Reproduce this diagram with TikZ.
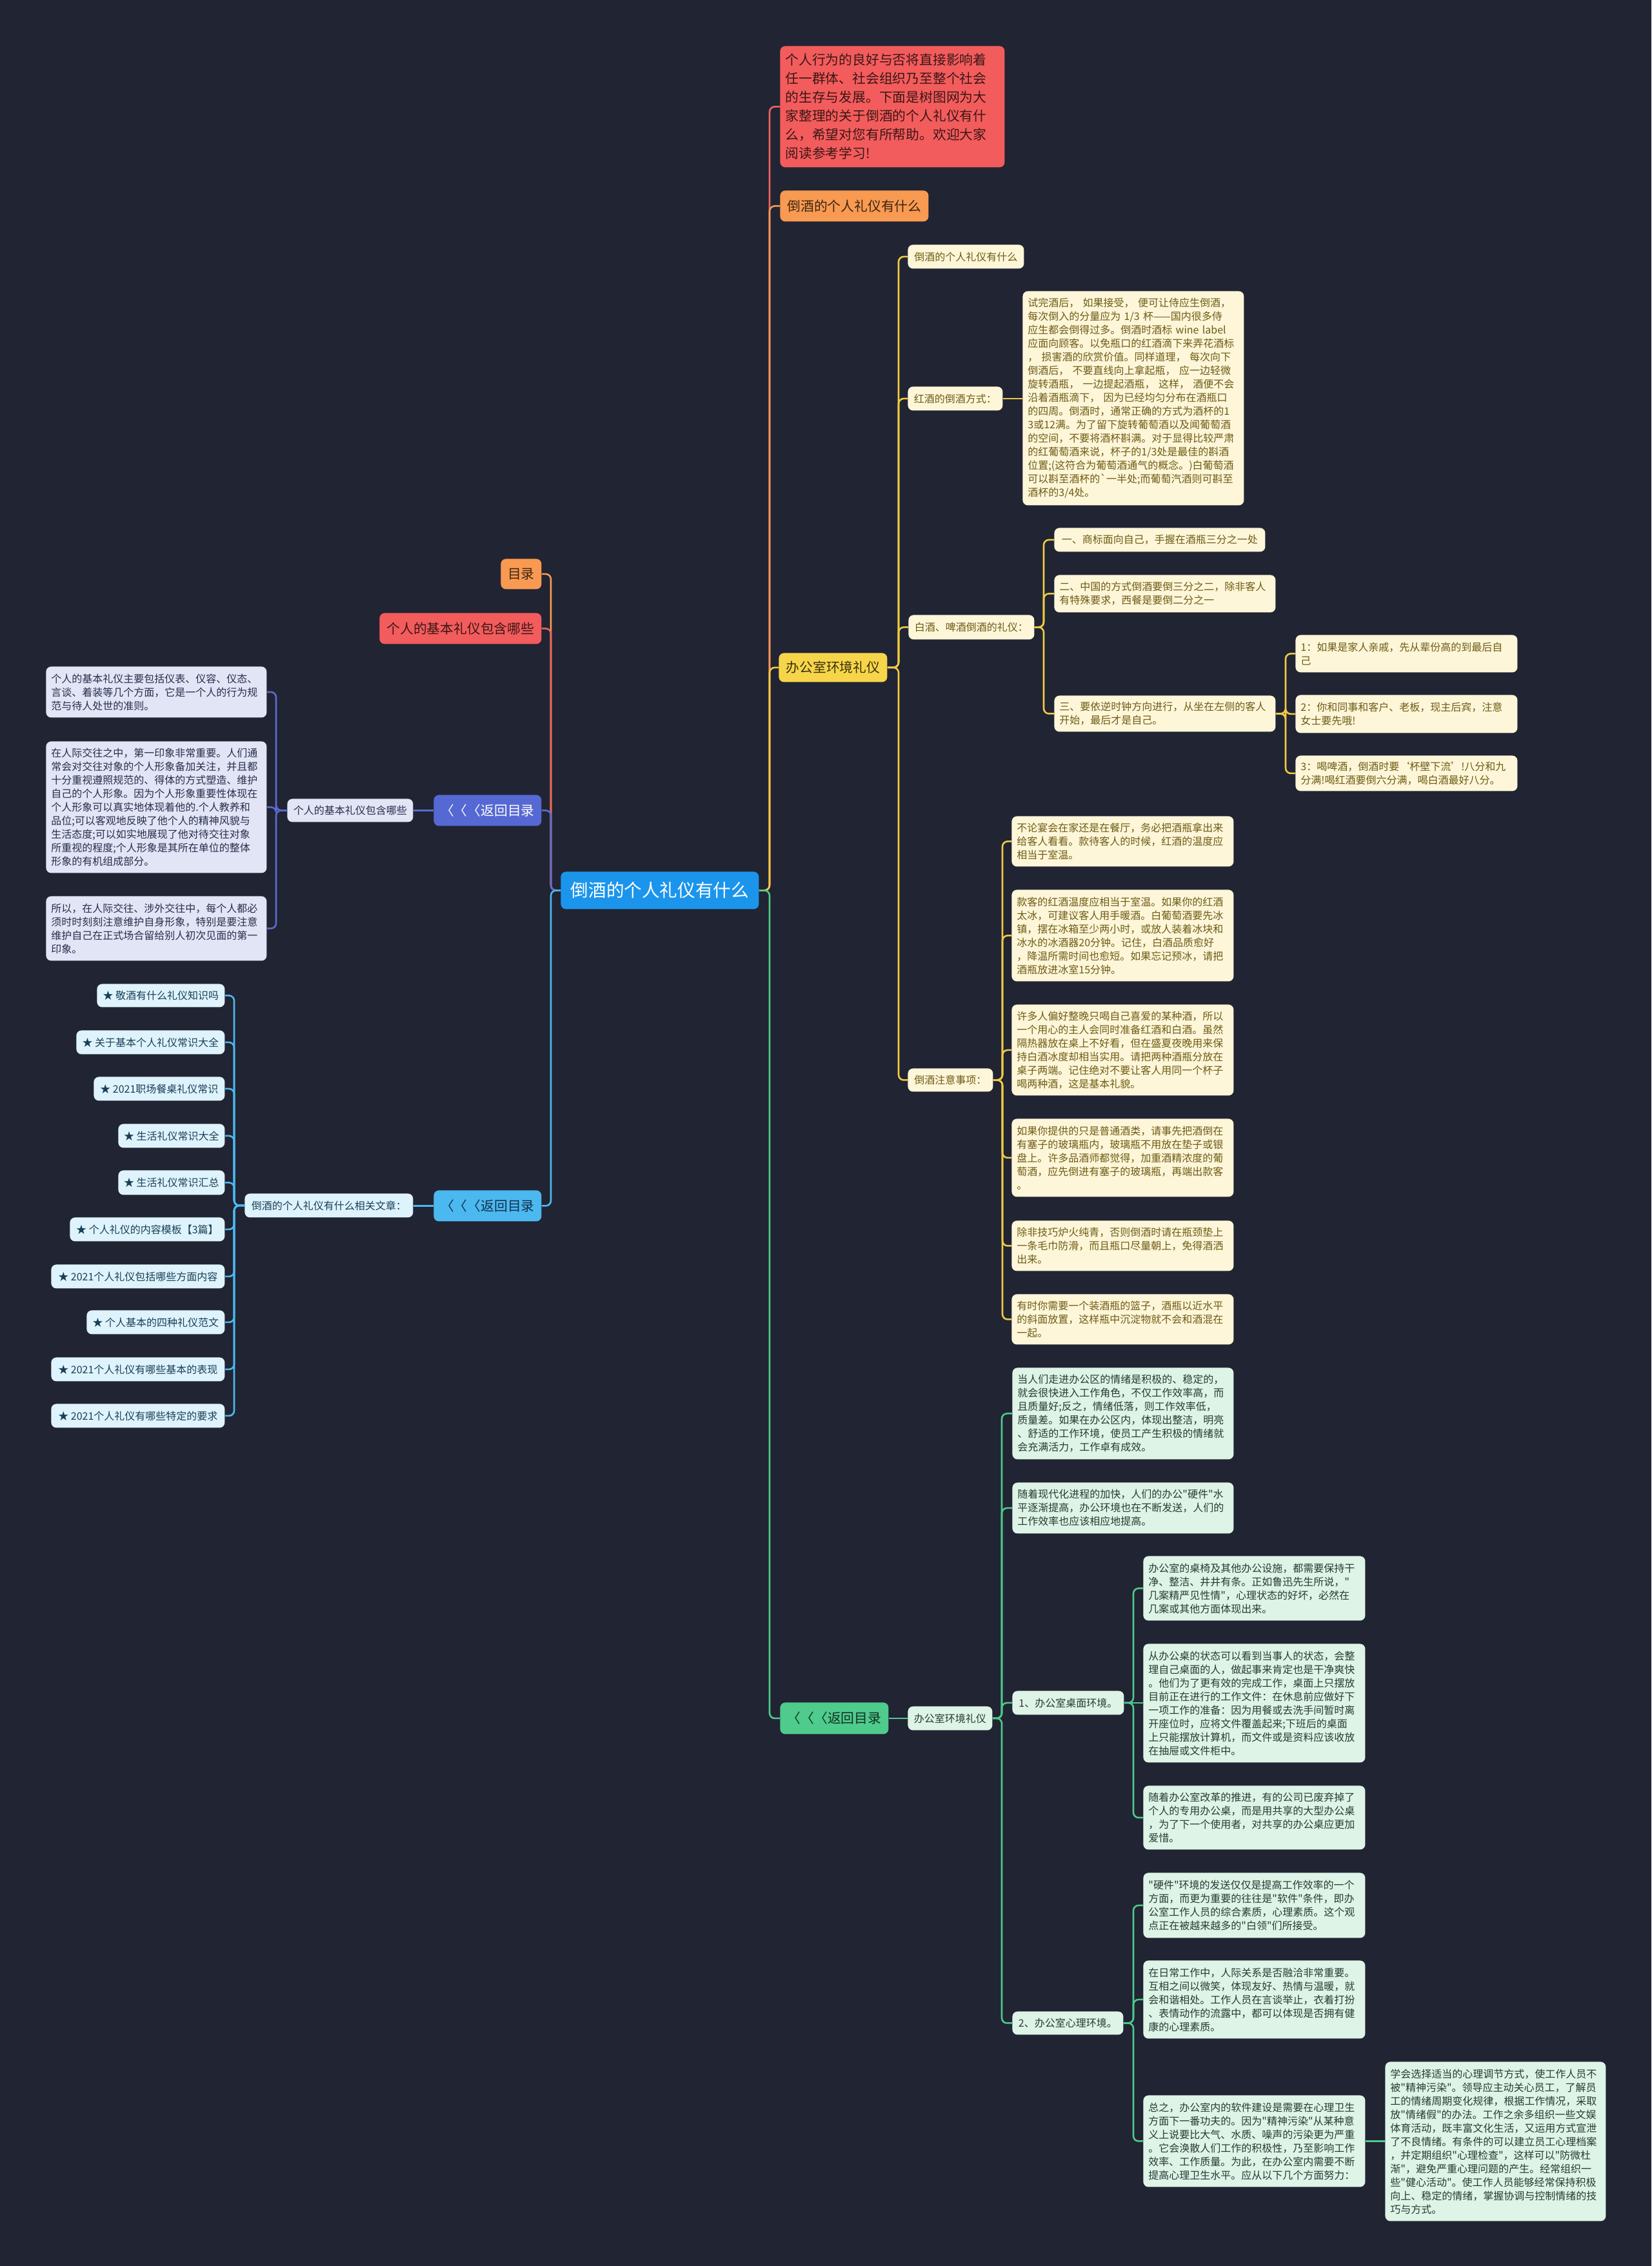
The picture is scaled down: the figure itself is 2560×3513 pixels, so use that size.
\documentclass[tikz,border=0pt]{standalone}
\usepackage{fontspec}
\setmainfont{Noto Sans CJK SC}
\newfontfamily\cjkfont{Noto Sans CJK SC}
\usetikzlibrary{calc}
\definecolor{bg}{HTML}{212432}
\definecolor{cblue}{HTML}{1B95EC}
\definecolor{redf}{HTML}{F35C5C}
\definecolor{redt}{HTML}{3B1616}
\definecolor{redl}{HTML}{EF6262}
\definecolor{orgf}{HTML}{F89A52}
\definecolor{orgt}{HTML}{3D2410}
\definecolor{orgl}{HTML}{F59B55}
\definecolor{ylwf}{HTML}{F7D54A}
\definecolor{ylwt}{HTML}{3A300A}
\definecolor{ylwl}{HTML}{EFCB45}
\definecolor{creamf}{HTML}{FDF6D9}
\definecolor{creamt}{HTML}{6E5B14}
\definecolor{grnf}{HTML}{4ECB8D}
\definecolor{grnt}{HTML}{12301F}
\definecolor{grnl}{HTML}{4EC98C}
\definecolor{mintf}{HTML}{DDF4E7}
\definecolor{mintt}{HTML}{2A3A31}
\definecolor{purf}{HTML}{5568D3}
\definecolor{purl}{HTML}{5A6BD2}
\definecolor{lavf}{HTML}{E2E5F6}
\definecolor{lavt}{HTML}{282D4A}
\definecolor{lbf}{HTML}{4CB8F0}
\definecolor{lbt}{HTML}{11304A}
\definecolor{lbl}{HTML}{4CB8F0}
\definecolor{cyanf}{HTML}{DFF3FC}
\definecolor{cyant}{HTML}{183F57}
\newcommand\fntS{\cjkfont\fontsize{8}{10.5}\selectfont}
\newcommand\fntM{\cjkfont\fontsize{10.4}{14.5}\selectfont}
\newcommand\fntC{\cjkfont\fontsize{13.8}{16}\selectfont}
\tikzset{
  nbox/.style={rounded corners=4pt,inner xsep=3pt,inner ysep=0pt,font=\fntS},
  cbox/.style={nbox,fill=cblue,text=white,font=\fntC},
  redbox/.style={nbox,fill=redf,text=redt,font=\fntM},
  orgbox/.style={nbox,fill=orgf,text=orgt,font=\fntM},
  ylwbox/.style={nbox,fill=ylwf,text=ylwt,font=\fntM},
  grnbox/.style={nbox,fill=grnf,text=grnt,font=\fntM},
  purbox/.style={nbox,fill=purf,text=white,font=\fntM},
  lbbox/.style={nbox,fill=lbf,text=lbt,font=\fntM},
  creambox/.style={nbox,fill=creamf,text=creamt},
  mintbox/.style={nbox,fill=mintf,text=mintt},
  lavbox/.style={nbox,fill=lavf,text=lavt},
  cyanbox/.style={nbox,fill=cyanf,text=cyant},
  conn/.style={line width=1.3pt,rounded corners=4pt},
}
% single-line box: style, name, x1, y1, x2, y2, text
\newcommand\Bx[7]{%
  \pgfmathsetmacro\bxw{(#5-#3)*0.5}%
  \pgfmathsetmacro\bxh{(#6-#4)*0.5}%
  \node[#1,anchor=north west,minimum width=\bxw pt,minimum height=\bxh pt] (#2) at (#3,#4) {#7};}
% multi-line box
\newcommand\Tx[7]{%
  \pgfmathsetmacro\bxw{(#5-#3)*0.5}%
  \pgfmathsetmacro\bxh{(#6-#4)*0.5}%
  \pgfmathsetmacro\bxt{\bxw-8}%
  \node[#1,anchor=north west,minimum width=\bxw pt,minimum height=\bxh pt,text width=\bxt pt,align=left,inner xsep=4pt] (#2) at (#3,#4) {#7};}
\newcommand\CR[4]{\draw[conn,#1] (#2.east) -- (#2.east -| #3) |- (#4.west);}
\newcommand\CL[4]{\draw[conn,#1] (#2.west) -- (#2.west -| #3) |- (#4.east);}
\newcommand\CS[3]{\draw[conn,#1] (#2.east) -- (#2.east -| #3.west);}
\newcommand\CLS[3]{\draw[conn,#1] (#2.west) -- (#2.west -| #3.east);}
\begin{document}
\begin{tikzpicture}[x=0.5pt,y=-0.5pt]
\fill[bg] (0,0) rectangle (2560,3513);
\useasboundingbox (0,0) rectangle (2560,3513);
% spines
\coordinate (sR) at (1193,0);
\coordinate (sL) at (854,0);
\coordinate (sY) at (1393,0);
\coordinate (s3) at (1618,0);
\coordinate (s3c) at (1993,0);
\coordinate (s4) at (1554,0);
\coordinate (sG) at (1553,0);
\coordinate (sG3) at (1757,0);
\coordinate (sG4) at (1757,0);
\coordinate (sP) at (428,0);
\coordinate (sB) at (363,0);
% central
\Bx{cbox}{c}{869}{1351}{1176}{1409}{倒酒的个人礼仪有什么}
% right main
\Tx{redbox,inner xsep=5.5pt}{intro}{1209}{71}{1557}{259}{个人行为的良好与否将直接影响着\\任一群体、社会组织乃至整个社会\\的生存与发展。下面是树图网为大\\家整理的关于倒酒的个人礼仪有什\\么，希望对您有所帮助。欢迎大家\\阅读参考学习!}
\Bx{orgbox}{od}{1209}{295}{1439}{343}{倒酒的个人礼仪有什么}
\Bx{ylwbox}{yb}{1207}{1012}{1375}{1057}{办公室环境礼仪}
\Bx{grnbox}{gb}{1209}{2639}{1377}{2688}{〈〈〈返回目录}
% yellow subtree
\Bx{creambox}{y1}{1407}{379}{1587}{416}{倒酒的个人礼仪有什么}
\Bx{creambox}{y2}{1407}{599}{1554}{636}{红酒的倒酒方式：}
\Tx{creambox}{y2t}{1585}{451}{1928}{783}{试完酒后， 如果接受， 便可让侍应生倒酒，\\每次倒入的分量应为 1/3 杯——国内很多侍\\应生都会倒得过多。倒酒时酒标 wine label\\应面向顾客。以免瓶口的红酒滴下来弄花酒标\\， 损害酒的欣赏价值。同样道理， 每次向下\\倒酒后， 不要直线向上拿起瓶， 应一边轻微\\旋转酒瓶， 一边提起酒瓶， 这样， 酒便不会\\沿着酒瓶滴下， 因为已经均匀分布在酒瓶口\\的四周。倒酒时，通常正确的方式为酒杯的1\\3或12满。为了留下旋转葡萄酒以及闻葡萄酒\\的空间，不要将酒杯斟满。对于显得比较严肃\\的红葡萄酒来说，杯子的1/3处是最佳的斟酒\\位置;(这符合为葡萄酒通气的概念。)白葡萄酒\\可以斟至酒杯的\textasciigrave 一半处;而葡萄汽酒则可斟至\\酒杯的3/4处。}
\Bx{creambox}{y3}{1408}{953}{1603}{991}{白酒、啤酒倒酒的礼仪：}
\Bx{creambox}{y3a}{1634}{818}{1961}{855}{一、商标面向自己，手握在酒瓶三分之一处}
\Tx{creambox}{y3b}{1634}{891}{1977}{949}{二、中国的方式倒酒要倒三分之二，除非客人\\有特殊要求，西餐是要倒二分之一}
\Tx{creambox}{y3c}{1634}{1078}{1977}{1134}{三、要依逆时钟方向进行，从坐在左侧的客人\\开始，最后才是自己。}
\Tx{creambox}{y3c1}{2008}{984}{2352}{1042}{1：如果是家人亲戚，先从辈份高的到最后自\\己}
\Tx{creambox}{y3c2}{2008}{1077}{2352}{1136}{2：你和同事和客户、老板，现主后宾，注意\\女士要先哦!}
\Tx{creambox}{y3c3}{2008}{1171}{2352}{1226}{3：喝啤酒，倒酒时要‘杯壁下流’!八分和九\\分满!喝红酒要倒六分满，喝白酒最好八分。}
\Bx{creambox}{y4}{1407}{1656}{1539}{1692}{倒酒注意事项：}
\Tx{creambox}{y4a}{1568}{1265}{1912}{1343}{不论宴会在家还是在餐厅，务必把酒瓶拿出来\\给客人看看。款待客人的时候，红酒的温度应\\相当于室温。}
\Tx{creambox}{y4b}{1568}{1379}{1912}{1521}{款客的红酒温度应相当于室温。如果你的红酒\\太冰，可建议客人用手暖酒。白葡萄酒要先冰\\镇，摆在冰箱至少两小时，或放人装着冰块和\\冰水的冰酒器20分钟。记住，白酒品质愈好\\，降温所需时间也愈短。如果忘记预冰，请把\\酒瓶放进冰室15分钟。}
\Tx{creambox}{y4c}{1568}{1557}{1912}{1698}{许多人偏好整晚只喝自己喜爱的某种酒，所以\\一个用心的主人会同时准备红酒和白酒。虽然\\隔热器放在桌上不好看，但在盛夏夜晚用来保\\持白酒冰度却相当实用。请把两种酒瓶分放在\\桌子两端。记住绝对不要让客人用同一个杯子\\喝两种酒，这是基本礼貌。}
\Tx{creambox}{y4d}{1568}{1734}{1912}{1855}{如果你提供的只是普通酒类，请事先把酒倒在\\有塞子的玻璃瓶内，玻璃瓶不用放在垫子或银\\盘上。许多品酒师都觉得，加重酒精浓度的葡\\萄酒，应先倒进有塞子的玻璃瓶，再端出款客\\。}
\Tx{creambox}{y4e}{1568}{1892}{1912}{1970}{除非技巧炉火纯青，否则倒酒时请在瓶颈垫上\\一条毛巾防滑，而且瓶口尽量朝上，免得酒洒\\出来。}
\Tx{creambox}{y4f}{1568}{2006}{1912}{2084}{有时你需要一个装酒瓶的篮子，酒瓶以近水平\\的斜面放置，这样瓶中沉淀物就不会和酒混在\\一起。}
% green subtree
\Bx{mintbox}{gm}{1407}{2645}{1538}{2682}{办公室环境礼仪}
\Tx{mintbox}{g1}{1569}{2120}{1912}{2262}{当人们走进办公区的情绪是积极的、稳定的，\\就会很快进入工作角色，不仅工作效率高，而\\且质量好;反之，情绪低落，则工作效率低，\\质量差。如果在办公区内，体现出整洁，明亮\\、舒适的工作环境，使员工产生积极的情绪就\\会充满活力，工作卓有成效。}
\Tx{mintbox}{g2}{1569}{2298}{1912}{2377}{随着现代化进程的加快，人们的办公"硬件"水\\平逐渐提高，办公环境也在不断发送，人们的\\工作效率也应该相应地提高。}
\Bx{mintbox}{g3}{1569}{2621}{1742}{2658}{1、办公室桌面环境。}
\Bx{mintbox}{g4}{1569}{3118}{1741}{3154}{2、办公室心理环境。}
\Tx{mintbox}{g3a}{1772}{2412}{2116}{2512}{办公室的桌椅及其他办公设施，都需要保持干\\净、整洁、井井有条。正如鲁迅先生所说，"\\几案精严见性情"，心理状态的好坏，必然在\\几案或其他方面体现出来。}
\Tx{mintbox}{g3b}{1772}{2548}{2116}{2732}{从办公桌的状态可以看到当事人的状态，会整\\理自己桌面的人，做起事来肯定也是干净爽快\\。他们为了更有效的完成工作，桌面上只摆放\\目前正在进行的工作文件：在休息前应做好下\\一项工作的准备：因为用餐或去洗手间暂时离\\开座位时，应将文件覆盖起来;下班后的桌面\\上只能摆放计算机，而文件或是资料应该收放\\在抽屉或文件柜中。}
\Tx{mintbox}{g3c}{1772}{2768}{2116}{2867}{随着办公室改革的推进，有的公司已废弃掉了\\个人的专用办公桌，而是用共享的大型办公桌\\，为了下一个使用者，对共享的办公桌应更加\\爱惜。}
\Tx{mintbox}{g4a}{1772}{2903}{2116}{3004}{"硬件"环境的发送仅仅是提高工作效率的一个\\方面，而更为重要的往往是"软件"条件，即办\\公室工作人员的综合素质，心理素质。这个观\\点正在被越来越多的"白领"们所接受。}
\Tx{mintbox}{g4b}{1772}{3039}{2116}{3160}{在日常工作中，人际关系是否融洽非常重要。\\互相之间以微笑，体现友好、热情与温暖，就\\会和谐相处。工作人员在言谈举止，衣着打扮\\、表情动作的流露中，都可以体现是否拥有健\\康的心理素质。}
\Tx{mintbox}{g4c}{1772}{3248}{2116}{3390}{总之，办公室内的软件建设是需要在心理卫生\\方面下一番功夫的。因为"精神污染"从某种意\\义上说要比大气、水质、噪声的污染更为严重\\。它会涣散人们工作的积极性，乃至影响工作\\效率、工作质量。为此，在办公室内需要不断\\提高心理卫生水平。应从以下几个方面努力：}
\Tx{mintbox}{g4d}{2147}{3196}{2489}{3443}{学会选择适当的心理调节方式，使工作人员不\\被"精神污染"。领导应主动关心员工，了解员\\工的情绪周期变化规律，根据工作情况，采取\\放"情绪假"的办法。工作之余多组织一些文娱\\体育活动，既丰富文化生活，又运用方式宣泄\\了不良情绪。有条件的可以建立员工心理档案\\，并定期组织"心理检查"，这样可以"防微杜\\渐"，避免严重心理问题的产生。经常组织一\\些"健心活动"。使工作人员能够经常保持积极\\向上、稳定的情绪，掌握协调与控制情绪的技\\巧与方式。}
% left side
\Bx{orgbox}{ml}{776}{866}{839}{913}{目录}
\Bx{redbox}{rl}{588}{950}{839}{998}{个人的基本礼仪包含哪些}
\Bx{purbox}{pl}{672}{1232}{839}{1280}{〈〈〈返回目录}
\Bx{lavbox}{pls}{445}{1238}{640}{1274}{个人的基本礼仪包含哪些}
\Tx{lavbox}{l1}{71}{1033}{413}{1112}{个人的基本礼仪主要包括仪表、仪容、仪态、\\言谈、着装等几个方面，它是一个人的行为规\\范与待人处世的准则。}
\Tx{lavbox}{l2}{71}{1149}{413}{1353}{在人际交往之中，第一印象非常重要。人们通\\常会对交往对象的个人形象备加关注，并且都\\十分重视遵照规范的、得体的方式塑造、维护\\自己的个人形象。因为个人形象重要性体现在\\个人形象可以真实地体现着他的.个人教养和\\品位;可以客观地反映了他个人的精神风貌与\\生活态度;可以如实地展现了他对待交往对象\\所重视的程度;个人形象是其所在单位的整体\\形象的有机组成部分。}
\Tx{lavbox}{l3}{71}{1389}{413}{1489}{所以，在人际交往、涉外交往中，每个人都必\\须时时刻刻注意维护自身形象，特别是要注意\\维护自己在正式场合留给别人初次见面的第一\\印象。}
\Bx{lbbox}{bl}{672}{1845}{839}{1893}{〈〈〈返回目录}
\Bx{cyanbox}{bls}{379}{1850}{640}{1887}{倒酒的个人礼仪有什么相关文章：}
\Bx{cyanbox}{b1}{150}{1525}{348}{1561}{★ 敬酒有什么礼仪知识吗}
\Bx{cyanbox}{b2}{118}{1597}{348}{1634}{★ 关于基本个人礼仪常识大全}
\Bx{cyanbox}{b3}{145}{1669}{348}{1706}{★ 2021职场餐桌礼仪常识}
\Bx{cyanbox}{b4}{183}{1742}{348}{1779}{★ 生活礼仪常识大全}
\Bx{cyanbox}{b5}{183}{1814}{348}{1852}{★ 生活礼仪常识汇总}
\Bx{cyanbox}{b6}{108}{1887}{348}{1924}{★ 个人礼仪的内容模板【3篇】}
\Bx{cyanbox}{b7}{79}{1960}{348}{1997}{★ 2021个人礼仪包括哪些方面内容}
\Bx{cyanbox}{b8}{134}{2031}{348}{2068}{★ 个人基本的四种礼仪范文}
\Bx{cyanbox}{b9}{79}{2104}{348}{2141}{★ 2021个人礼仪有哪些基本的表现}
\Bx{cyanbox}{b10}{79}{2176}{348}{2213}{★ 2021个人礼仪有哪些特定的要求}
% connectors right trunk
\CR{redl}{c}{sR}{intro}
\CR{orgl}{c}{sR}{od}
\CR{ylwl}{c}{sR}{yb}
\CR{grnl}{c}{sR}{gb}
% yellow
\CR{ylwl}{yb}{sY}{y1}
\CR{ylwl}{yb}{sY}{y2}
\CR{ylwl}{yb}{sY}{y3}
\CR{ylwl}{yb}{sY}{y4}
\CS{ylwl}{y2}{y2t}
\CR{ylwl}{y3}{s3}{y3a}
\CR{ylwl}{y3}{s3}{y3b}
\CR{ylwl}{y3}{s3}{y3c}
\CR{ylwl}{y3c}{s3c}{y3c1}
\CR{ylwl}{y3c}{s3c}{y3c2}
\CR{ylwl}{y3c}{s3c}{y3c3}
\CR{ylwl}{y4}{s4}{y4a}
\CR{ylwl}{y4}{s4}{y4b}
\CR{ylwl}{y4}{s4}{y4c}
\CR{ylwl}{y4}{s4}{y4d}
\CR{ylwl}{y4}{s4}{y4e}
\CR{ylwl}{y4}{s4}{y4f}
% green
\CS{grnl}{gb}{gm}
\CR{grnl}{gm}{sG}{g1}
\CR{grnl}{gm}{sG}{g2}
\CR{grnl}{gm}{sG}{g3}
\CR{grnl}{gm}{sG}{g4}
\CR{grnl}{g3}{sG3}{g3a}
\CS{grnl}{g3}{g3b}
\CR{grnl}{g3}{sG3}{g3c}
\CR{grnl}{g4}{sG4}{g4a}
\CR{grnl}{g4}{sG4}{g4b}
\CR{grnl}{g4}{sG4}{g4c}
\CS{grnl}{g4c}{g4d}
% left trunk
\CL{orgl}{c}{sL}{ml}
\CL{redl}{c}{sL}{rl}
\CL{purl}{c}{sL}{pl}
\CL{lbl}{c}{sL}{bl}
\CLS{purl}{pl}{pls}
\CL{purl}{pls}{sP}{l1}
\CL{purl}{pls}{sP}{l2}
\CL{purl}{pls}{sP}{l3}
\CLS{lbl}{bl}{bls}
\CL{lbl}{bls}{sB}{b1}
\CL{lbl}{bls}{sB}{b2}
\CL{lbl}{bls}{sB}{b3}
\CL{lbl}{bls}{sB}{b4}
\CL{lbl}{bls}{sB}{b5}
\CL{lbl}{bls}{sB}{b6}
\CL{lbl}{bls}{sB}{b7}
\CL{lbl}{bls}{sB}{b8}
\CL{lbl}{bls}{sB}{b9}
\CL{lbl}{bls}{sB}{b10}
\end{tikzpicture}
\end{document}
